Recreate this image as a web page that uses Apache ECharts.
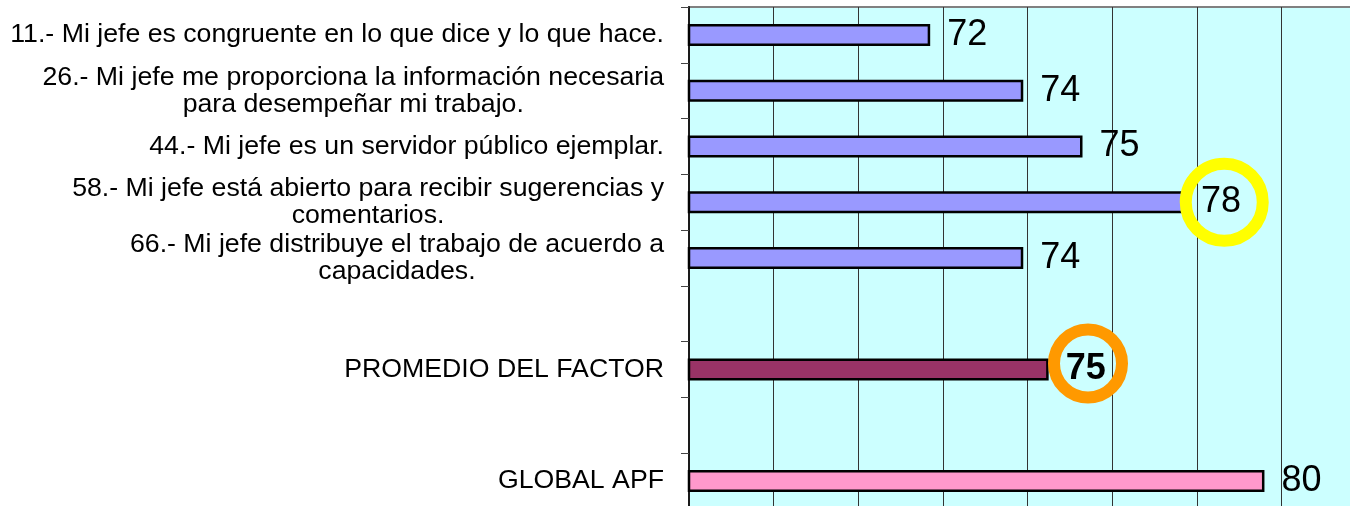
<!DOCTYPE html>
<html>
<head>
<meta charset="utf-8">
<script src="https://cdn.jsdelivr.net/npm/echarts@6/dist/echarts.min.js"></script>
<style>
html,body{margin:0;padding:0;background:#fff;}
#chart{width:1350px;height:506px;}
</style>
</head>
<body>
<div id="chart"></div>
<script>
// ---- data ----
var categories = [
  "11.- Mi jefe es congruente en lo que dice y lo que hace.",
  "26.- Mi jefe me proporciona la información necesaria\npara desempeñar mi trabajo.",
  "44.- Mi jefe es un servidor público ejemplar.",
  "58.- Mi jefe está abierto para recibir sugerencias y\ncomentarios.",
  "66.- Mi jefe distribuye el trabajo de acuerdo a\ncapacidades.",
  " ",
  "PROMEDIO DEL FACTOR",
  "  ",
  "GLOBAL APF"
];
var values = [71.7, 73.9, 75.3, 77.7, 73.9, null, 74.5, null, 79.6];
var barColors = ["#9999FF", "#9999FF", "#9999FF", "#9999FF", "#9999FF", "#9999FF", "#993366", "#993366", "#FF99CC"];
var xTicks = { min: 66, max: 82, interval: 2 };
var yellowCircle = [78.65, 3];
var orangeCircle = [75.43, 6];

// ---- chart ----
var chart = echarts.init(document.getElementById('chart'), null, { renderer: 'canvas' });

var barData = values.map(function (v, i) {
  if (v === null) return null;
  var item = { value: v, itemStyle: { color: barColors[i] } };
  if (categories[i] === "PROMEDIO DEL FACTOR") {
    item.label = { fontWeight: 'bold' };
  }
  return item;
});

var font = '"Liberation Sans", Arial, sans-serif';

chart.setOption({
  animation: false,
  backgroundColor: '#ffffff',
  grid: {
    left: 689, top: 7, width: 677, height: 502,
    outerBoundsMode: 'none',
    containLabel: false,
    show: true,
    backgroundColor: '#CCFFFF',
    borderColor: '#808080',
    borderWidth: 2
  },
  xAxis: {
    type: 'value',
    min: xTicks.min, max: xTicks.max, interval: xTicks.interval,
    axisLine: { show: false },
    axisTick: { show: false },
    axisLabel: { show: false },
    splitLine: { show: true, lineStyle: { color: '#333333', width: 1 } }
  },
  yAxis: {
    type: 'category',
    inverse: true,
    data: categories,
    axisLine: { show: true, lineStyle: { color: '#1a1a1a', width: 2 } },
    axisTick: { show: true, length: 8, lineStyle: { color: '#444', width: 1 } },
    axisLabel: {
      margin: 25,
      color: '#000',
      fontFamily: font,
      fontSize: 26.7,
      lineHeight: 27,
      align: 'right',
      formatter: function (v) {
        var lines = v.split('\n');
        return lines.map(function (l) { return '{c|' + l + '}'; }).join('\n');
      },
      rich: {
        c: { align: 'center', fontFamily: font, fontSize: 26.7, lineHeight: 27, color: '#000' }
      }
    },
    splitLine: { show: false }
  },
  series: [
    {
      type: 'bar',
      data: barData,
      barWidth: 22,
      itemStyle: { borderColor: '#000', borderWidth: 2.5 },
      label: {
        show: true,
        position: 'right',
        distance: 17,
        color: '#000',
        fontFamily: font,
        fontSize: 36,
        formatter: function (p) { return Math.round(p.value); }
      },
      silent: true
    },
    {
      type: 'scatter',
      silent: true,
      z: 5,
      data: [
        { value: yellowCircle, symbolSize: 77, itemStyle: { color: 'transparent', opacity: 1, borderColor: '#FFFF00', borderWidth: 12 } },
        { value: orangeCircle, symbolSize: 68, symbolOffset: [0, -6], itemStyle: { color: 'transparent', opacity: 1, borderColor: '#FF9900', borderWidth: 12 } }
      ]
    }
  ]
});
</script>
</body>
</html>
